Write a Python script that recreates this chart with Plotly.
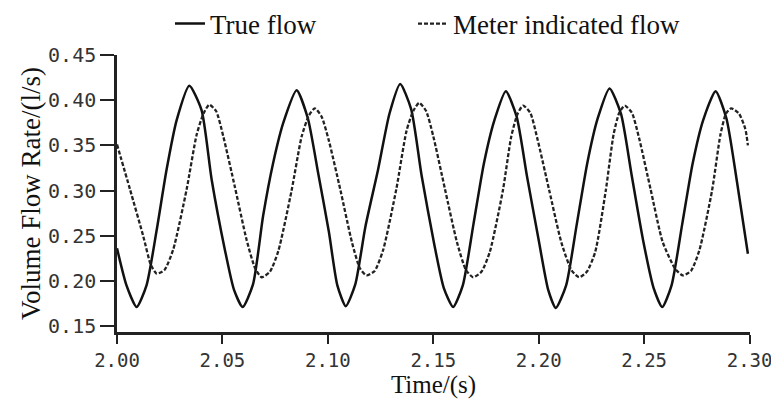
import plotly.graph_objects as go

# True flow (solid) - time (s) and flow (l/s)
true_time = [2.0000, 2.0045, 2.0093, 2.0140, 2.0188, 2.0235, 2.0283, 2.0343, 2.0401, 2.0449, 2.0512, 2.0555,
             2.0596, 2.0645, 2.0693, 2.0740, 2.0790, 2.0852, 2.0905, 2.0955, 2.1005, 2.1045,
             2.1085, 2.1130, 2.1178, 2.1238, 2.1292, 2.1343, 2.1395, 2.1445, 2.1505, 2.1550,
             2.1594, 2.1640, 2.1690, 2.1740, 2.1790, 2.1844, 2.1895, 2.1945, 2.2000, 2.2045,
             2.2081, 2.2130, 2.2180, 2.2230, 2.2280, 2.2336, 2.2390, 2.2440, 2.2495, 2.2545,
             2.2586, 2.2630, 2.2680, 2.2730, 2.2780, 2.2839, 2.2890, 2.2940, 2.2992]
true_flow = [0.236, 0.195, 0.171, 0.195, 0.256, 0.323, 0.378, 0.416, 0.389, 0.312, 0.234, 0.190,
             0.171, 0.196, 0.272, 0.330, 0.376, 0.411, 0.380, 0.318, 0.254, 0.195,
             0.172, 0.196, 0.260, 0.323, 0.385, 0.418, 0.390, 0.316, 0.240, 0.192,
             0.171, 0.195, 0.262, 0.330, 0.378, 0.410, 0.382, 0.315, 0.245, 0.190,
             0.170, 0.195, 0.262, 0.330, 0.380, 0.413, 0.385, 0.318, 0.245, 0.192,
             0.171, 0.195, 0.262, 0.330, 0.378, 0.410, 0.380, 0.310, 0.230]

# Meter indicated flow (dashed)
meter_time = [2.0000, 2.0062, 2.0125, 2.0160, 2.0188, 2.0225, 2.0267, 2.0330, 2.0378, 2.0410,
              2.0437, 2.0470, 2.0504, 2.0559, 2.0615, 2.0655, 2.0686, 2.0725, 2.0765, 2.0828,
              2.0876, 2.0910, 2.0938, 2.0970, 2.1005, 2.1060, 2.1115, 2.1152, 2.1183, 2.1222,
              2.1262, 2.1325, 2.1373, 2.1405, 2.1433, 2.1466, 2.1500, 2.1555, 2.1612, 2.1655,
              2.1689, 2.1728, 2.1768, 2.1830, 2.1870, 2.1900, 2.1926, 2.1960, 2.1993, 2.2050,
              2.2108, 2.2155, 2.2191, 2.2228, 2.2268, 2.2318, 2.2355, 2.2382, 2.2408, 2.2442,
              2.2476, 2.2530, 2.2588, 2.2648, 2.2684, 2.2722, 2.2762, 2.2822, 2.2862, 2.2888,
              2.2913, 2.2950, 2.2980, 2.2992]
meter_flow = [0.351, 0.301, 0.249, 0.218, 0.208, 0.212, 0.235, 0.301, 0.362, 0.385,
              0.395, 0.388, 0.360, 0.304, 0.245, 0.214, 0.204, 0.210, 0.233, 0.300,
              0.360, 0.383, 0.391, 0.382, 0.355, 0.300, 0.242, 0.214, 0.206, 0.211,
              0.234, 0.302, 0.366, 0.388, 0.397, 0.388, 0.360, 0.302, 0.243, 0.212,
              0.204, 0.210, 0.232, 0.300, 0.360, 0.385, 0.394, 0.386, 0.358, 0.300,
              0.242, 0.212, 0.204, 0.210, 0.232, 0.300, 0.362, 0.386, 0.394, 0.386,
              0.358, 0.302, 0.243, 0.213, 0.206, 0.211, 0.234, 0.300, 0.362, 0.385,
              0.391, 0.385, 0.368, 0.350]

x_ticks = [2.00, 2.05, 2.10, 2.15, 2.20, 2.25, 2.30]
y_ticks = [0.15, 0.20, 0.25, 0.30, 0.35, 0.40, 0.45]

serif = "Liberation Serif, Times New Roman, serif"
sans = "DejaVu Sans Mono, DejaVu Sans, Arial, sans-serif"

fig = go.Figure()
fig.add_trace(go.Scatter(x=true_time, y=true_flow, mode="lines", name="True flow",
                         legend="legend",
                         line=dict(color="#111111", width=2.5, shape="spline", smoothing=0.6)))
fig.add_trace(go.Scatter(x=meter_time, y=meter_flow, mode="lines", name="Meter indicated flow",
                         legend="legend2",
                         line=dict(color="#222222", width=2.3, dash="4px,2px", shape="spline", smoothing=0.6)))

legend_font = dict(family=serif, size=27, color="#111111")

fig.update_layout(
    width=771, height=406,
    margin=dict(l=117, r=21, t=55, b=74, autoexpand=False),
    paper_bgcolor="white", plot_bgcolor="white",
    showlegend=True,
    legend=dict(orientation="h", x=0.0837, y=1.112, xanchor="left", yanchor="middle",
                xref="paper", yref="paper", font=legend_font, bgcolor="rgba(0,0,0,0)"),
    legend2=dict(orientation="h", x=0.4676, y=1.112, xanchor="left", yanchor="middle",
                 xref="paper", yref="paper", font=legend_font, bgcolor="rgba(0,0,0,0)"),
    xaxis=dict(range=[2.0, 2.3002], tickvals=x_ticks, tickformat=".2f",
               showline=True, linecolor="#222222", linewidth=2.5,
               ticks="outside", ticklen=9, tickwidth=2, tickcolor="#222222",
               showgrid=False, zeroline=False, ticklabeloverflow="allow",
               tickfont=dict(family=sans, size=19, color="#333333"),
               title=dict(text="Time/(s)", font=dict(family=serif, size=25, color="#111111"), standoff=6)),
    yaxis=dict(range=[0.1434, 0.45], tickvals=y_ticks, tickformat=".2f",
               showline=True, linecolor="#222222", linewidth=2.5,
               ticks="outside", ticklen=14, tickwidth=2, tickcolor="#222222",
               showgrid=False, zeroline=False, ticklabeloverflow="allow",
               tickfont=dict(family=sans, size=20, color="#333333"),
               title=dict(text="Volume Flow Rate/(l/s)", font=dict(family=serif, size=27, color="#111111"), standoff=0)),
)

# remove the default 8px page margin so the 771x406 figure fills the window exactly
fig.write_html("out.html", config={"displayModeBar": False},
               post_script="document.body.style.margin='0';document.body.style.overflow='hidden';")
